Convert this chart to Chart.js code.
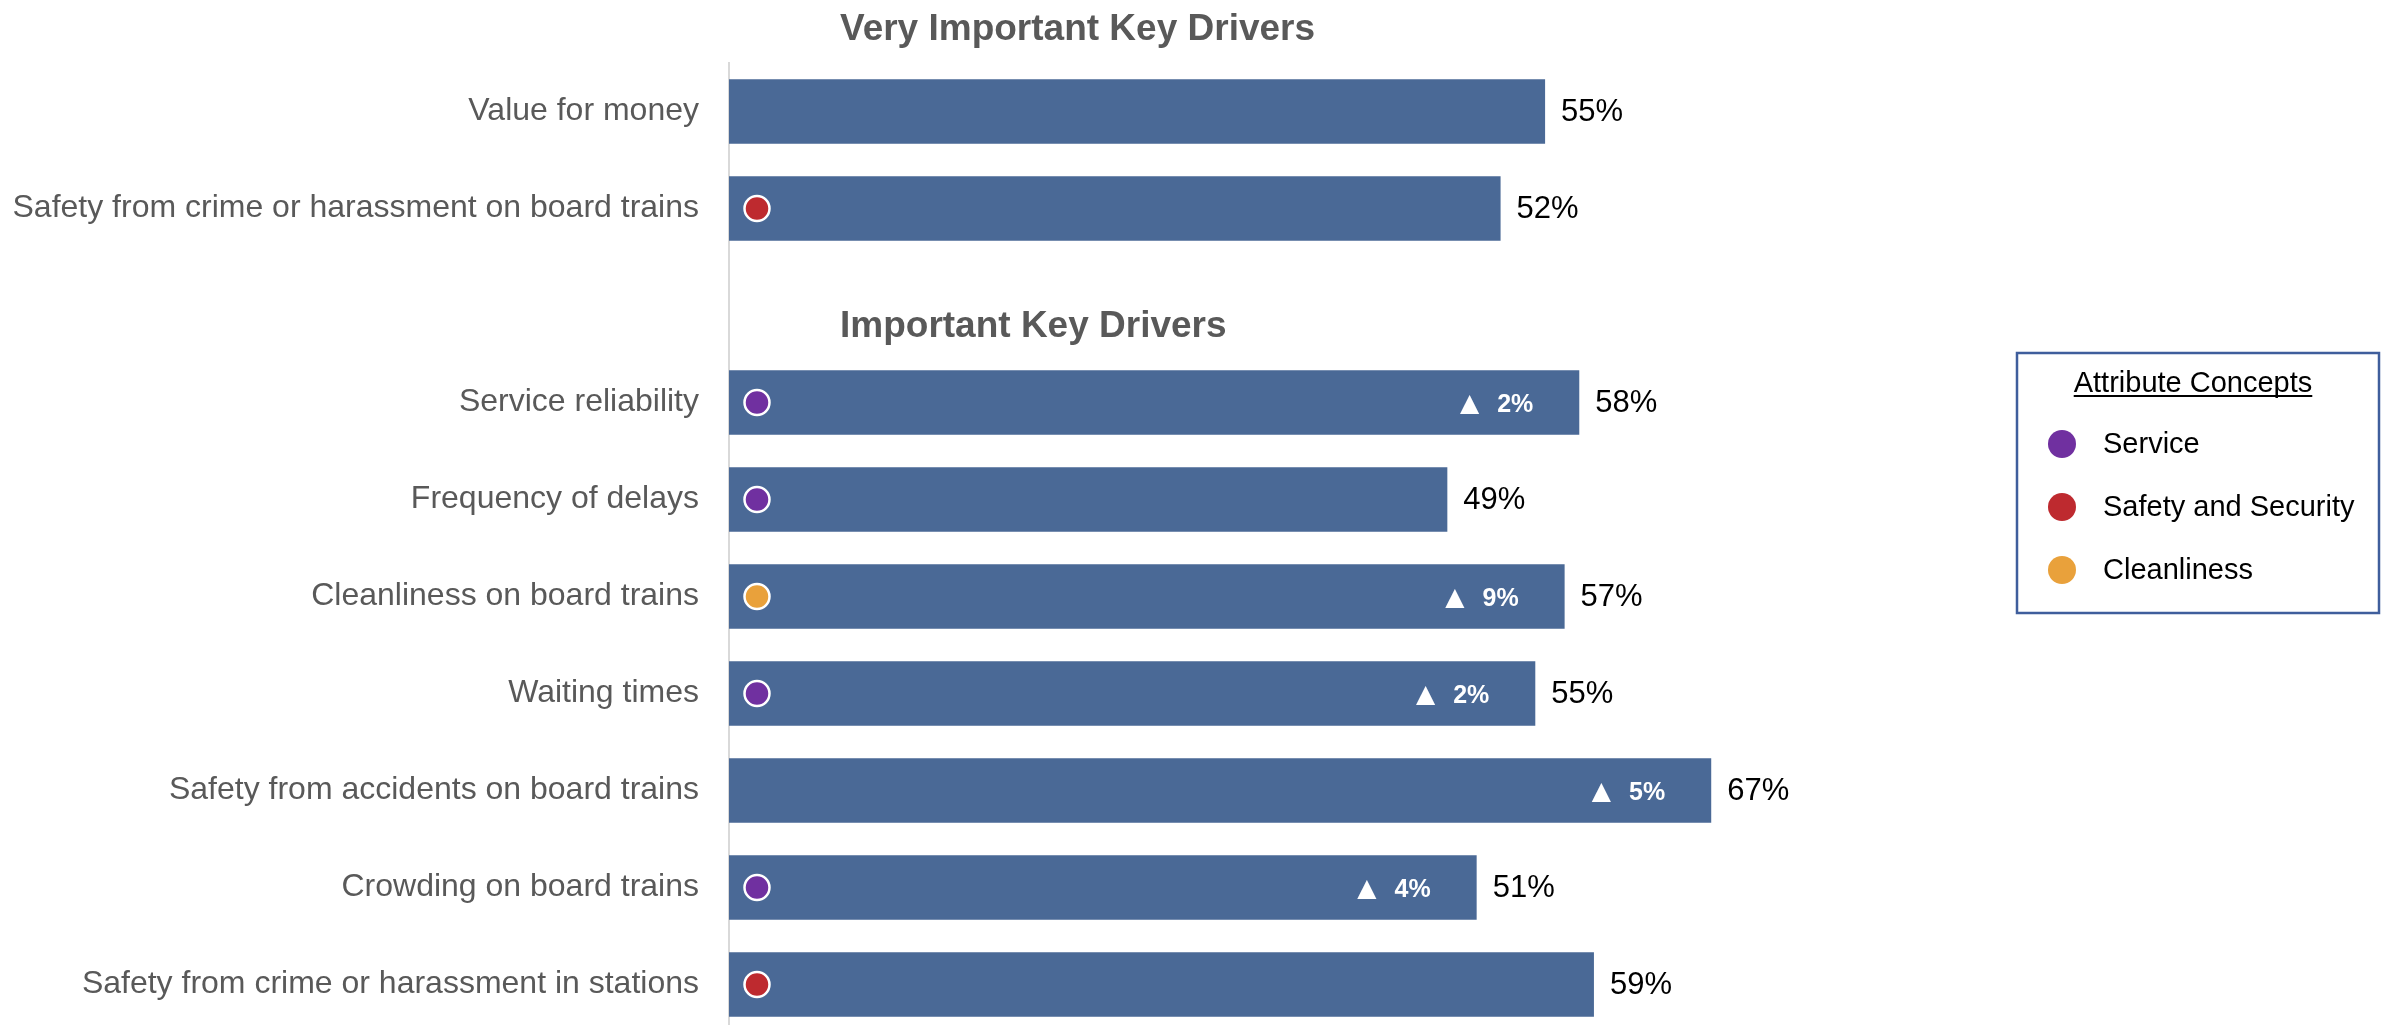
<!DOCTYPE html>
<html>
<head>
<meta charset="utf-8">
<script src="https://cdn.jsdelivr.net/npm/chart.js@4/dist/chart.umd.min.js"></script>
<style>
  html, body { margin: 0; padding: 0; background: #fff; overflow: hidden; }
  #wrap { position: relative; width: 2384px; height: 1033px; }
</style>
</head>
<body>
<div id="wrap"><canvas id="c"></canvas></div>
<script>
// ---- data ----
const categories = [
  "Value for money",
  "Safety from crime or harassment on board trains",
  "",
  "Service reliability",
  "Frequency of delays",
  "Cleanliness on board trains",
  "Waiting times",
  "Safety from accidents on board trains",
  "Crowding on board trains",
  "Safety from crime or harassment in stations"
];
const values = [55, 52, null, 58, 49, 57, 55, 67, 51, 59];
const section = [0, 0, null, 1, 1, 1, 1, 1, 1, 1];   // 0 = Very Important, 1 = Important
const deltas = [null, null, null, 2, null, 9, 2, 5, 4, null];
const concepts = [null, "Safety and Security", null, "Service", "Service", "Cleanliness", "Service", null, "Service", "Safety and Security"];
const sectionTitles = ["Very Important Key Drivers", "Important Key Drivers"];
const legendTitle = "Attribute Concepts";
const conceptNames = ["Service", "Safety and Security", "Cleanliness"];
const conceptColors = ["#7030A0", "#BE2A2F", "#E9A13B"];

// ---- styles ----
const BAR = "#4A6996";
const GRAY = "#595959";
const FONT = "'Liberation Sans', Arial, sans-serif";
const colorOf = name => conceptColors[conceptNames.indexOf(name)];

const overlay = {
  id: 'overlay',
  afterDatasetsDraw(chart) {
    const ctx = chart.ctx;
    const area = chart.chartArea;
    const yScale = chart.scales.y;
    ctx.save();
    [0, 1].forEach(ds => {
      chart.getDatasetMeta(ds).data.forEach((bar, i) => {
        if (section[i] !== ds) return;
        const v = values[i];
        if (v == null) return;
        const endX = bar.x, cy = bar.y;
        // value label
        ctx.fillStyle = "#000";
        ctx.font = "31px " + FONT;
        ctx.textAlign = "left";
        ctx.textBaseline = "middle";
        ctx.fillText(v + "%", endX + 16, cy + 1);
        // delta label
        if (deltas[i] != null) {
          ctx.fillStyle = "#fff";
          ctx.font = "bold 25px " + FONT;
          ctx.textAlign = "right";
          const rx = endX - 46;
          const txt = deltas[i] + "%";
          ctx.fillText(txt, rx, cy + 3);
          const w = ctx.measureText(txt).width;
          ctx.font = "25px 'DejaVu Sans', " + FONT;
          ctx.fillText("\u25B2", rx - w - 18, cy + 2);
        }
        // concept marker
        if (concepts[i]) {
          ctx.beginPath();
          ctx.arc(area.left + 28, cy, 12.5, 0, Math.PI * 2);
          ctx.fillStyle = colorOf(concepts[i]);
          ctx.fill();
          ctx.lineWidth = 2.5;
          ctx.strokeStyle = "#fff";
          ctx.stroke();
        }
      });
    });
    // section titles
    ctx.fillStyle = GRAY;
    ctx.font = "bold 37px " + FONT;
    ctx.textAlign = "left";
    ctx.textBaseline = "middle";
    ctx.fillText(sectionTitles[0], area.left + 111, yScale.getPixelForValue(0) - 82);
    ctx.fillText(sectionTitles[1], area.left + 111, yScale.getPixelForValue(2) + 21);

    // legend box
    const lx = 2017, ly = 353, lw = 362, lh = 260;
    ctx.lineWidth = 2.5;
    ctx.strokeStyle = "#3F5E9C";
    ctx.strokeRect(lx, ly, lw, lh);
    ctx.fillStyle = "#000";
    ctx.font = "29px " + FONT;
    ctx.textAlign = "center";
    ctx.textBaseline = "alphabetic";
    const tcx = 2193, tby = 392;
    ctx.fillText(legendTitle, tcx, tby);
    const tw = ctx.measureText(legendTitle).width;
    ctx.fillRect(tcx - tw / 2, tby + 3, tw, 2);
    ctx.textAlign = "left";
    ctx.textBaseline = "middle";
    conceptNames.forEach((n, k) => {
      const y = 444 + k * 63;
      ctx.beginPath();
      ctx.arc(2062, y, 14, 0, Math.PI * 2);
      ctx.fillStyle = conceptColors[k];
      ctx.fill();
      ctx.fillStyle = "#000";
      ctx.fillText(n, 2103, y + 1);
    });
    ctx.restore();
  }
};

new Chart(document.getElementById('c'), {
  type: 'bar',
  data: {
    labels: categories,
    datasets: [
      {
        data: values.map((v, i) => section[i] === 0 ? v : null),
        xAxisID: 'xTop',
        grouped: false,
        backgroundColor: BAR,
        borderWidth: 0,
        categoryPercentage: 1,
        barPercentage: 0.665
      },
      {
        data: values.map((v, i) => section[i] === 1 ? v : null),
        xAxisID: 'x',
        grouped: false,
        backgroundColor: BAR,
        borderWidth: 0,
        categoryPercentage: 1,
        barPercentage: 0.665
      }
    ]
  },
  options: {
    indexAxis: 'y',
    responsive: true,
    maintainAspectRatio: false,
    animation: false,
    events: [],
    layout: { padding: { top: 63, right: 189, bottom: 0, left: 0 } },
    plugins: { legend: { display: false }, tooltip: { enabled: false }, title: { display: false } },
    scales: {
      x: { display: false, min: 0, max: 100 },
      xTop: { display: false, position: 'top', min: 0, max: 98.8 },
      y: {
        grid: { display: false, drawTicks: false },
        border: { display: true, color: "#D9D9D9", width: 2 },
        ticks: { color: GRAY, font: { family: FONT, size: 32 }, padding: 30 },
        afterFit(scale) {
          scale.width = 729;
          scale.paddingTop = 0;
          scale.paddingBottom = 0;
        }
      }
    }
  },
  plugins: [overlay]
});
</script>
</body>
</html>
